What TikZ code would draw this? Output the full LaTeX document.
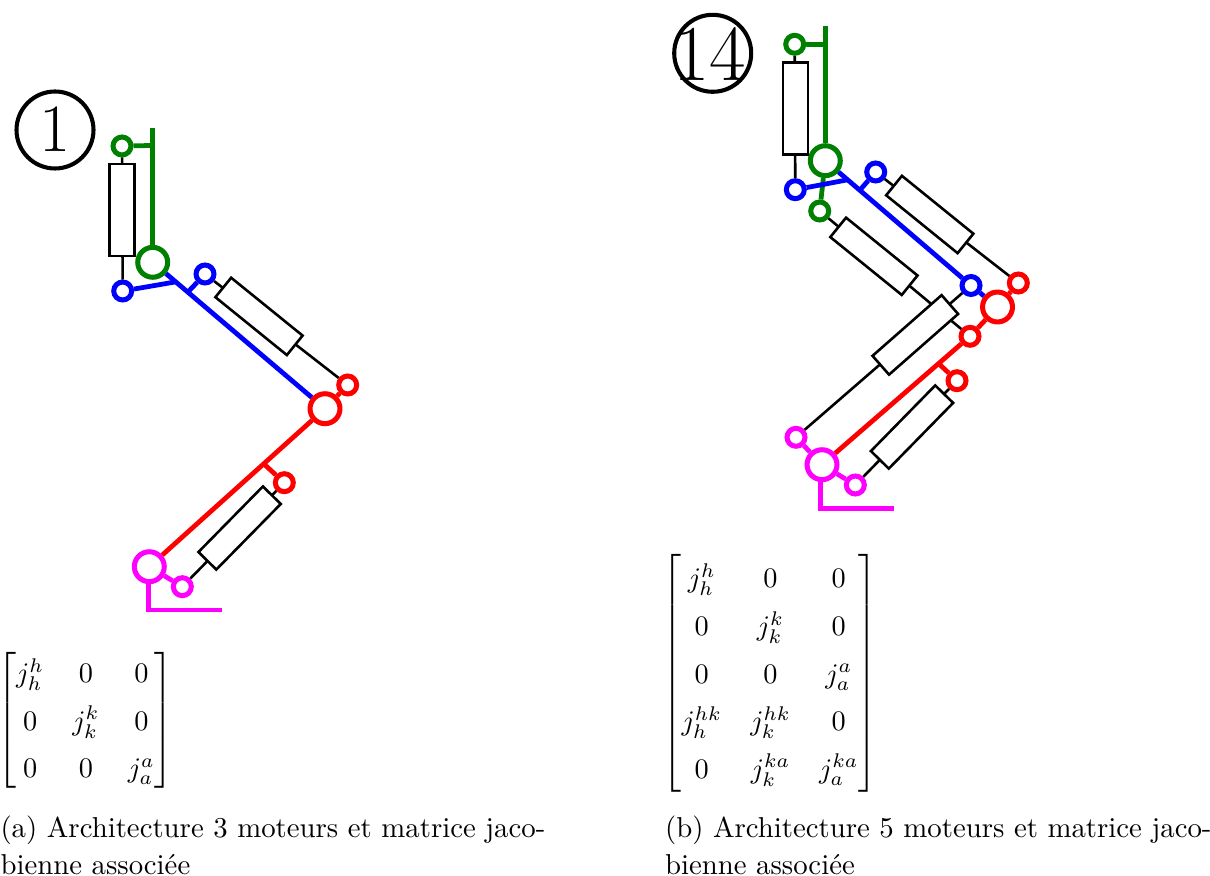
\documentclass[tikz,border=0pt]{standalone}
\usepackage{amsmath}
\usepackage{fontspec}
\definecolor{cgreen}{RGB}{0,128,0}
\definecolor{cblue}{RGB}{0,0,255}
\definecolor{cred}{RGB}{255,0,0}
\definecolor{cmag}{RGB}{255,0,255}
\renewcommand{\arraystretch}{1.4}
\tikzset{
  bigj/.style={circle,draw,line width=1.85pt,minimum size=11pt,inner sep=0pt},
  smallj/.style={circle,draw,line width=1.85pt,minimum size=6.6pt,inner sep=0pt},
  barlink/.style={line width=1.75pt},
  actuator/.style={draw=black,fill=white,line width=0.95pt,minimum width=33.8pt,minimum height=9.2pt,inner sep=0pt},
  rodline/.style={draw=black,line width=0.95pt},
  badge/.style={circle,draw=black,line width=1.5pt,minimum size=28.3pt,inner sep=0pt},
  badgetext/.style={inner sep=0pt,font=\Huge},
  matrixnode/.style={inner sep=0pt},
  captiontext/.style={anchor=north west,inner sep=0pt,align=left,font=\fontsize{10.58}{13.6}\selectfont}
}
\begin{document}
\begin{tikzpicture}[x=0.3676pt,y=-0.3676pt]
\useasboundingbox (0,0) rectangle (1210,876);
% ---------- left
\node[badge] (A0) at (55,130) {};
\node[badgetext] (A0t) at (A0) {$1$};
\node[smallj,cgreen] (Ag1) at (122,146) {};
\node[bigj,cgreen] (Ag) at (152.7,262.3) {};
\node[smallj,cblue] (Ab1) at (122.7,291) {};
\node[smallj,cblue] (Ab2) at (205,274) {};
\node[bigj,cred] (Ar) at (325,408.7) {};
\node[smallj,cred] (Ar1) at (347.7,385) {};
\node[smallj,cred] (Ar2) at (284.3,482.7) {};
\node[bigj,cmag] (Am) at (149.3,566.7) {};
\node[smallj,cmag] (Am1) at (182.3,586.7) {};
\coordinate (Agt) at (152.7,128);
\coordinate (Agh) at (152.7,145.5);
\coordinate (Abe) at (175,282);
\coordinate (Abf) at (188,292);
\coordinate (Are) at (265,465);
\coordinate (Amc) at (148.5,610);
\coordinate (Ame) at (222,610);
\draw[rodline] (Ag1) -- (Ab1);
\draw[rodline] (Ab2) -- (Ar1);
\draw[rodline] (Ar2) -- (Am1);
\node[actuator,rotate=90] (Ac1) at (122,210) {};
\node[actuator,rotate=-39] (Ac2) at (259,316.4) {};
\node[actuator,rotate=45.5] (Ac3) at (239.6,528) {};
\draw[barlink,cgreen] (Agt) -- (Ag);
\draw[barlink,cgreen] (Ag1) -- (Agh);
\draw[barlink,cblue] (Ag) -- (Ar);
\draw[barlink,cblue] (Ab1) -- (Abe);
\draw[barlink,cblue] (Abf) -- (Ab2);
\draw[barlink,cred] (Ar) -- (Ar1);
\draw[barlink,cred] (Ar) -- (Am);
\draw[barlink,cred] (Are) -- (Ar2);
\draw[barlink,cmag] (Am) -- (Am1);
\draw[barlink,cmag] (Amc |- Am.south) -- (Amc) -- (Ame);
\node[matrixnode] (Amat) at (85.5,720.5) {\scalebox{1.04}{$\begin{bmatrix} j_h^h & 0 & 0\\ 0 & j_k^k & 0\\ 0 & 0 & j_a^a \end{bmatrix}$}};
\node[captiontext] (Acap) at (0,815.5) {(a) Architecture 3 moteurs et matrice jaco-\\bienne associée};
% ---------- right
\node[badge] (B0) at (712.7,53.3) {};
\node[badgetext] (B0t) at (710,55) {\scalebox{1.17}{$14$}};
\node[smallj,cgreen] (Bg1) at (794.7,44.3) {};
\node[bigj,cgreen] (Bg) at (825.3,160.7) {};
\node[smallj,cgreen] (Bg2) at (819.7,211) {};
\node[smallj,cblue] (Bb1) at (795.3,189.7) {};
\node[smallj,cblue] (Bb2) at (875.7,172) {};
\node[smallj,cblue] (Bb3) at (971,285.5) {};
\node[bigj,cred] (Br) at (997.5,307) {};
\node[smallj,cred] (Br1) at (1018.3,283) {};
\node[smallj,cred] (Br2) at (970,336.3) {};
\node[smallj,cred] (Br3) at (957,380.7) {};
\node[bigj,cmag] (Bm) at (822,464.7) {};
\node[smallj,cmag] (Bm1) at (796,437.3) {};
\node[smallj,cmag] (Bm2) at (855.3,485) {};
\coordinate (Bgt) at (825.3,26);
\coordinate (Bgh) at (825.3,44.5);
\coordinate (Bbe) at (846.7,180);
\coordinate (Bbf) at (860,190);
\coordinate (Bre) at (938.3,363.3);
\coordinate (Bmc) at (820.7,508.7);
\coordinate (Bme) at (894.3,508.7);
\draw[rodline] (Bg1) -- (Bb1);
\draw[rodline] (Bb2) -- (Br1);
\draw[rodline] (Bg2) -- (Br2);
\draw[rodline] (Bb3) -- (Bm1);
\draw[rodline] (Br3) -- (Bm2);
\node[actuator,rotate=90] (Bc1) at (795.5,108.7) {};
\node[actuator,rotate=-39] (Bc2) at (929.75,214.5) {};
\node[actuator,rotate=-39] (Bc3) at (873.9,256.3) {};
\node[actuator,rotate=41.3] (Bc4) at (915.3,334.9) {};
\node[actuator,rotate=45.6] (Bc5) at (912,427) {};
\draw[barlink,cgreen] (Bgt) -- (Bg);
\draw[barlink,cgreen] (Bg1) -- (Bgh);
\draw[barlink,cgreen] (Bg) -- (Bg2);
\draw[barlink,cblue] (Bg) -- (Bb3);
\draw[barlink,cblue] (Bb3) -- (Br);
\draw[barlink,cblue] (Bb1) -- (Bbe);
\draw[barlink,cblue] (Bbf) -- (Bb2);
\draw[barlink,cred] (Br) -- (Br1);
\draw[barlink,cred] (Br) -- (Br2);
\draw[barlink,cred] (Br2) -- (Bm);
\draw[barlink,cred] (Bre) -- (Br3);
\draw[barlink,cmag] (Bm) -- (Bm1);
\draw[barlink,cmag] (Bm) -- (Bm2);
\draw[barlink,cmag] (Bmc |- Bm.south) -- (Bmc) -- (Bme);
\node[matrixnode] (Bmat) at (770,673.5) {\scalebox{1.04}{$\begin{bmatrix} j_h^h & 0 & 0\\ 0 & j_k^k & 0\\ 0 & 0 & j_a^a\\ j_h^{hk} & j_k^{hk} & 0\\ 0 & j_k^{ka} & j_a^{ka} \end{bmatrix}$}};
\node[captiontext] (Bcap) at (664.5,815.5) {(b) Architecture 5 moteurs et matrice jaco-\\bienne associée};
\end{tikzpicture}
\end{document}
